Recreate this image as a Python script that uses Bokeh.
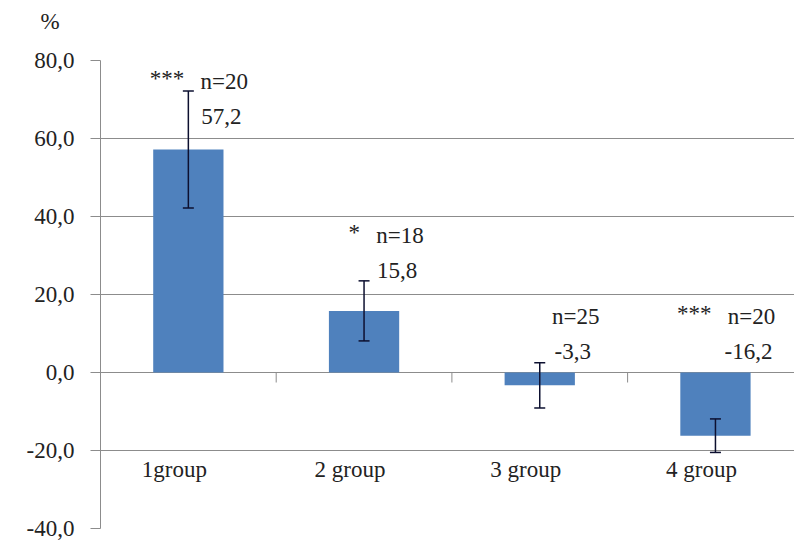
from bokeh.plotting import figure
from bokeh.models import Range1d, FixedTicker, ColumnDataSource, Whisker, TeeHead, CustomJSTickFormatter
from bokeh.core.properties import value
from bokeh.embed import file_html
from bokeh.resources import INLINE

# ---- data ----
groups = ["1group", "2 group", "3 group", "4 group"]
means = [57.2, 15.8, -3.3, -16.2]
errors = [15.0, 7.7, 5.8, 4.3]
counts = [20, 18, 25, 20]
significance = ["***", "*", "", "***"]
y_ticks = [-40, -20, 0, 20, 40, 60, 80]

# ---- layout ----
W, H = 794, 542
LEFT, TOP, BOTTOM = 100, 60, 14
frame_h = H - TOP - BOTTOM
frame_w = W - LEFT
cat_px = 175.7                      # pixel width of one category slot
y_min, y_max = -40, 80
ppu = frame_h / (y_max - y_min)     # pixels per y unit
label_lift_px = [33, 40, 21, 21]    # value label baseline above bar top / zero
n_gap_px = 35                       # n= label baseline above value label
star_lift_px = 3                    # significance stars sit a little higher
group_drop_px = 19                  # group name baseline below the -20 line

FONT = value("Liberation Serif")
FS = "23px"
TXT = "#222222"
GRID = "#8c8c8c"
BAR = "#4F81BD"
ERR = "#0d1030"

centers = [i + 0.5 for i in range(len(groups))]
anchor = [max(m, 0) for m in means]

src = ColumnDataSource(dict(
    x=centers,
    top=means,
    upper=[m + e for m, e in zip(means, errors)],
    lower=[m - e for m, e in zip(means, errors)],
    val_y=[a + l / ppu for a, l in zip(anchor, label_lift_px)],
    n_y=[a + (l + n_gap_px) / ppu for a, l in zip(anchor, label_lift_px)],
    star_y=[a + (l + n_gap_px + star_lift_px) / ppu for a, l in zip(anchor, label_lift_px)],
    val_txt=[f"{m:.1f}".replace(".", ",") for m in means],
    n_txt=[f"n={n}" for n in counts],
    sig=significance,
    grp=groups,
    grp_y=[y_min / 2 - group_drop_px / ppu] * len(groups),
))

p = figure(width=W, height=H, output_backend="svg", toolbar_location=None,
           x_range=Range1d(0, frame_w / cat_px), y_range=Range1d(y_min, y_max),
           x_axis_location=None,
           min_border_left=LEFT, min_border_top=TOP,
           min_border_bottom=BOTTOM, min_border_right=0)
p.outline_line_color = None
p.background_fill_color = "white"
p.border_fill_color = "white"

# unit marker above the value axis; the blank second line lifts it clear of the frame
p.title.text = "%\n "
p.title.align = "left"
p.title.offset = -60
p.title.standoff = 4
p.title.text_font = "Liberation Serif"
p.title.text_font_size = FS
p.title.text_font_style = "normal"
p.title.text_color = TXT

# y axis
ax = p.yaxis[0]
ax.ticker = FixedTicker(ticks=y_ticks)
ax.formatter = CustomJSTickFormatter(code="return tick.toFixed(1).replace('.', ',');")
ax.major_tick_in = 0
ax.major_tick_out = 10
ax.minor_tick_line_color = None
ax.axis_line_color = GRID
ax.major_tick_line_color = GRID
ax.major_label_standoff = 16
ax.major_label_text_font = "Liberation Serif"
ax.major_label_text_font_size = FS
ax.major_label_text_color = TXT
p.ygrid.ticker = FixedTicker(ticks=y_ticks)
p.ygrid.grid_line_color = GRID
p.xgrid.grid_line_color = None

# bars
p.vbar(x="x", top="top", bottom=0, width=0.4, source=src,
       fill_color=BAR, line_color=None)

# error bars, drawn over the bars
p.add_layout(Whisker(base="x", upper="upper", lower="lower", source=src,
                     level="overlay",
                     line_color=ERR, line_width=1.5,
                     upper_head=TeeHead(size=11, line_color=ERR, line_width=1.5),
                     lower_head=TeeHead(size=11, line_color=ERR, line_width=1.5)))

# category separators on the zero line
seps = list(range(1, len(groups)))
p.segment(x0=seps, x1=seps, y0=[0] * len(seps), y1=[-10 / ppu] * len(seps),
          line_color=GRID, line_width=1)

# annotations
common = dict(source=src, text_font=FONT, text_font_size=FS, text_color=TXT,
              text_baseline="alphabetic")
p.text(x="x", y="val_y", text="val_txt", text_align="center", x_offset=33, **common)
p.text(x="x", y="n_y", text="n_txt", text_align="center", x_offset=36, **common)
p.text(x="x", y="star_y", text="sig", text_align="right", x_offset=-4, **common)
p.text(x="x", y="grp_y", text="grp", text_align="center", x_offset=-14, **common)

open("out.html", "w").write(file_html(p, INLINE))
